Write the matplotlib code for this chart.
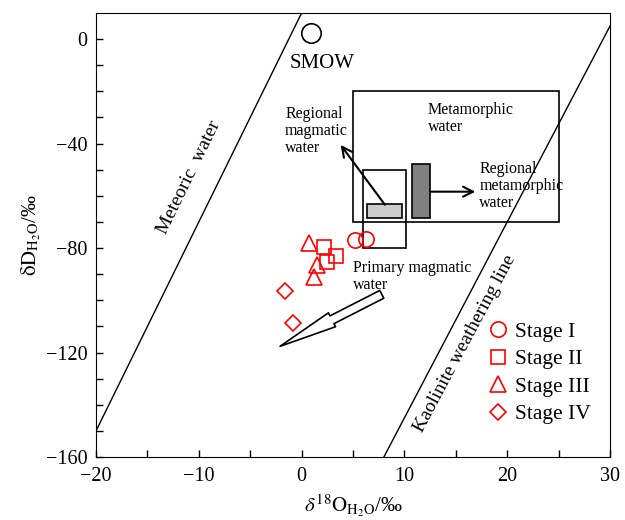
import matplotlib
matplotlib.use("Agg")
import matplotlib.pyplot as plt
import numpy as np
from matplotlib.patches import Rectangle

plt.rcParams['font.family'] = ['Liberation Serif', 'DejaVu Serif']
plt.rcParams['mathtext.fontset'] = 'stix'

# stage data (d18O, dD)
stage1_x = [5.2, 6.3]
stage1_y = [-77, -76.5]
stage2_x = [2.2, 3.3, 2.5]
stage2_y = [-79.5, -83, -85.5]
stage3_x = [0.7, 1.5, 1.2]
stage3_y = [-78, -86.5, -91]
stage4_x = [-1.6, -0.8]
stage4_y = [-96.5, -108.5]

# reference lines
meteoric_x = [-20, 0]
kaolinite_x = [8, 30]

fig = plt.figure(figsize=(6.25, 5.2), dpi=100)
ax = fig.add_axes([0.1536, 0.121, 0.8224, 0.854])
ax.set_xlim(-20, 30)
ax.set_ylim(-160, 10)

# meteoric water line dD = 8*d18O + 10
mx = np.array(meteoric_x)
ax.plot(mx, 8 * mx + 10, color='black', lw=1)
# kaolinite weathering line dD = 7.5*d18O - 220
kx = np.array(kaolinite_x)
ax.plot(kx, 7.5 * kx - 220, color='black', lw=1)

ax.text(-10.9, -53, 'Meteoric  water', rotation=64, ha='center', va='center', fontsize=14)
ax.text(15.9, -116.5, 'Kaolinite weathering line', rotation=62, ha='center', va='center', fontsize=14)

# SMOW
ax.plot([0.9], [2.3], 'o', ms=14, mfc='none', mec='black', mew=1.2)
ax.text(2.0, -9.2, 'SMOW', ha='center', va='center', fontsize=15)

# boxes
ax.add_patch(Rectangle((5, -70), 20, 50, fill=False, ec='black', lw=1.2))
ax.add_patch(Rectangle((6, -80), 4.2, 30, fill=False, ec='black', lw=1.2))
ax.add_patch(Rectangle((6.4, -68.3), 3.4, 5, fc='#cccccc', ec='black', lw=1.2))
ax.add_patch(Rectangle((10.7, -68.3), 1.8, 20.6, fc='#808080', ec='black', lw=1.2))

ax.annotate('', xy=(3.8, -40.5), xytext=(8.1, -63.4),
            arrowprops=dict(arrowstyle='->', color='black', lw=1.5, mutation_scale=18,
                            shrinkA=0, shrinkB=0))
ax.annotate('', xy=(16.9, -58.4), xytext=(12.5, -58.4),
            arrowprops=dict(arrowstyle='->', color='black', lw=1.5, mutation_scale=18,
                            shrinkA=0, shrinkB=0))

ax.text(-1.6, -25.5, 'Regional\nmagmatic\nwater', ha='left', va='top', fontsize=11.5, linespacing=1.1)
ax.text(12.3, -24, 'Metamorphic\nwater', ha='left', va='top', fontsize=11.5, linespacing=1.1)
ax.text(17.3, -46.5, 'Regional\nmetamorphic\nwater', ha='left', va='top', fontsize=11.5, linespacing=1.1)
ax.text(5.0, -84.5, 'Primary magmatic\nwater', ha='left', va='top', fontsize=11.5, linespacing=1.1)

# hollow arrow
ax.annotate('', xy=(-2.1, -117.6), xytext=(7.8, -97.7),
            arrowprops=dict(arrowstyle='simple,head_length=2.8,head_width=0.75,tail_width=0.42',
                            fc='white', ec='black', lw=1.2, mutation_scale=15,
                            shrinkA=0, shrinkB=0))

# stages
ax.plot(stage1_x, stage1_y, 'o', ms=11, mfc='none', mec='red', mew=1.2, ls='none', label='Stage I')
ax.plot(stage2_x, stage2_y, 's', ms=10.5, mfc='none', mec='red', mew=1.2, ls='none', label='Stage II')
ax.plot(stage3_x, stage3_y, '^', ms=11, mfc='none', mec='red', mew=1.2, ls='none', label='Stage III')
ax.plot(stage4_x, stage4_y, 'D', ms=8, mfc='none', mec='red', mew=1.2, ls='none', label='Stage IV')

ax.legend(loc='lower right', bbox_to_anchor=(1.0, 0.03), frameon=False, fontsize=15.5,
          handletextpad=0.2, labelspacing=0.35, handlelength=1.2)

ax.set_xticks([-20, -10, 0, 10, 20, 30])
ax.set_xticks(np.arange(-20, 31, 5), minor=True)
ax.set_yticks([0, -40, -80, -120, -160])
ax.set_yticks(np.arange(-160, 1, 10), minor=True)
ax.set_xticklabels(['\u221220', '\u221210', '0', '10', '20', '30'])
ax.set_yticklabels(['0', '\u221240', '\u221280', '\u2212120', '\u2212160'])
ax.tick_params(which='both', direction='in', length=5, width=1, labelsize=14.5)
ax.tick_params(axis='x', pad=7)
ax.tick_params(axis='y', pad=6)

ax.set_xlabel(r'$\delta^{18}\mathrm{O}_{\mathrm{H_2O}}$/‰', fontsize=15, labelpad=5)
ax.set_ylabel(r'$\mathrm{\delta D}_{\mathrm{H_2O}}$/‰', fontsize=15, labelpad=2)

fig.savefig('out.png', dpi=100)
